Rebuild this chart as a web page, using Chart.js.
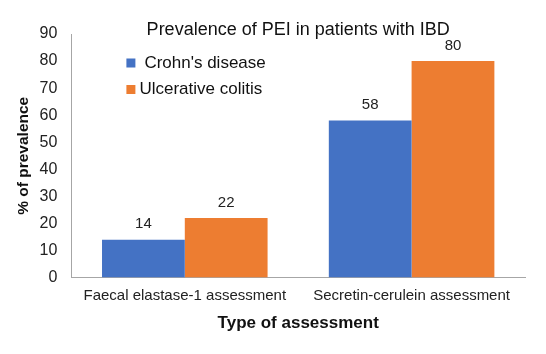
<!DOCTYPE html>
<html>
<head>
<meta charset="utf-8">
<script src="https://cdn.jsdelivr.net/npm/chart.js@4"></script>
<style>
  html, body { margin: 0; padding: 0; background: #fff; }
  #wrap { width: 546px; height: 354px; }
</style>
</head>
<body>
<div id="wrap"><canvas id="graphique"></canvas></div>
<script>
// Données
const categories = ["Faecal elastase-1 assessment", "Secretin-cerulein assessment"]
const crohn = [14, 58]
const colite = [22, 80]
const yTicks = [0, 10, 20, 30, 40, 50, 60, 70, 80, 90]

const police = "'Liberation Sans', Arial, sans-serif"

/* Affiche la valeur au-dessus de chaque barre */
const etiquettes = {
  id: "etiquettes",
  afterDatasetsDraw(chart) {
    const ctx = chart.ctx
    ctx.save()
    ctx.font = "15px " + police
    ctx.fillStyle = "#222"
    ctx.textAlign = "center"
    ctx.textBaseline = "bottom"
    chart.data.datasets.forEach((ds, i) => {
      chart.getDatasetMeta(i).data.forEach((bar, j) => {
        ctx.fillText(ds.data[j], bar.x, bar.y - 8)
      })
    })
    ctx.restore()
  },
}

/* Titre et légende dessinés dans la zone du graphique */
const titreLegende = {
  id: "titreLegende",
  afterDraw(chart) {
    const ctx = chart.ctx
    const area = chart.chartArea
    ctx.save()
    ctx.font = "18px " + police
    ctx.fillStyle = "#111"
    ctx.textAlign = "center"
    ctx.textBaseline = "middle"
    ctx.fillText("Prevalence of PEI in patients with IBD", (area.left + area.right) / 2, 30)

    ctx.font = "17px " + police
    ctx.textAlign = "left"
    chart.data.datasets.forEach((ds, i) => {
      const y = 63 + i * 26.5
      ctx.fillStyle = ds.backgroundColor
      ctx.fillRect(area.left + 55, y - 4.5, 9, 9)
      ctx.fillStyle = "#111"
      ctx.fillText(ds.label, area.left + (i === 0 ? 73 : 68), y)
    })
    ctx.restore()
  },
}

const data = {
  labels: categories,
  datasets: [
    { label: "Crohn's disease", data: crohn, backgroundColor: "#4472C4" },
    { label: "Ulcerative colitis", data: colite, backgroundColor: "#ED7D31" },
  ],
}

const config = {
  type: "bar",
  data: data,
  options: {
    responsive: true,
    maintainAspectRatio: false,
    animation: false,
    layout: { padding: { top: 34, right: 21, bottom: 20, left: 14 } },
    datasets: { bar: { categoryPercentage: 0.73, barPercentage: 1 } },
    plugins: {
      legend: { display: false },
      title: { display: false },
      tooltip: { enabled: false },
    },
    scales: {
      x: {
        grid: { display: false, drawTicks: false },
        border: { display: true, color: "#A6A6A6", width: 1 },
        ticks: { color: "#222", font: { family: police, size: 15 }, padding: 9 },
        title: {
          display: true,
          text: "Type of assessment",
          color: "#111",
          font: { family: police, size: 17, weight: "bold" },
          padding: { top: 0, bottom: 0 },
        },
      },
      y: {
        min: 0,
        max: 90,
        afterBuildTicks: (axis) => {
          axis.ticks = yTicks.map((v) => ({ value: v }))
        },
        grid: { display: false, drawTicks: false },
        border: { display: true, color: "#A6A6A6", width: 1 },
        ticks: { color: "#222", font: { family: police, size: 16 }, padding: 14 },
        title: {
          display: true,
          text: "% of prevalence",
          color: "#111",
          font: { family: police, size: 15.5, weight: "bold" },
          padding: { top: 0, bottom: -7 },
        },
      },
    },
  },
  plugins: [etiquettes, titreLegende],
}

new Chart(document.querySelector("#graphique"), config)
</script>
</body>
</html>
